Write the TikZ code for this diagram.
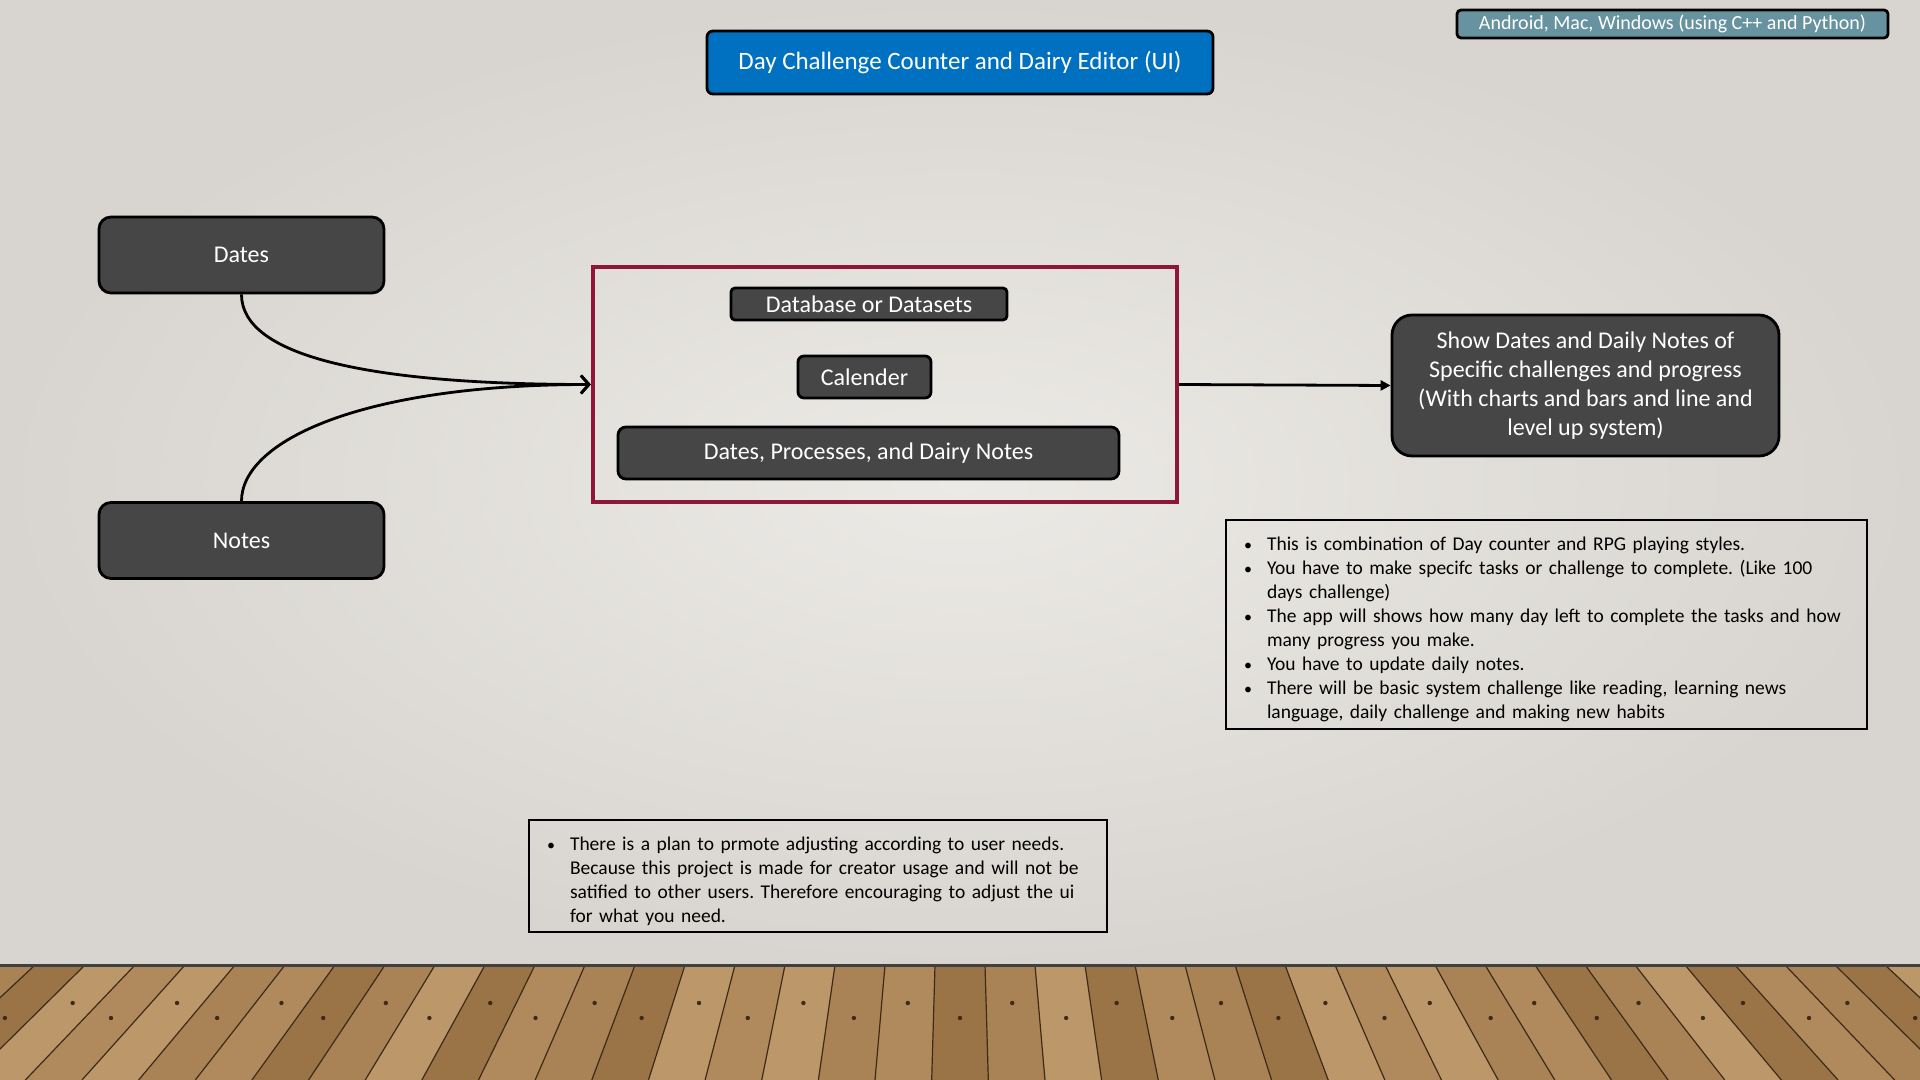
\documentclass[tikz,border=0pt]{standalone}
\usepackage{fontspec}
\setmainfont{Carlito}
\usepackage{tikz}
\usetikzlibrary{arrows.meta}
\usetikzlibrary{calc}

\definecolor{wallin}{HTML}{ECEAE6}
\definecolor{wallout}{HTML}{D8D5D0}
\definecolor{boxgray}{HTML}{464646}
\definecolor{titleblue}{HTML}{0070C0}
\definecolor{platteal}{HTML}{67929F}
\definecolor{storered}{HTML}{8E1737}
\definecolor{plank0}{HTML}{A98256}
\definecolor{plank1}{HTML}{BC976A}
\definecolor{plank2}{HTML}{9A7347}
\definecolor{plank3}{HTML}{B08A5C}
\definecolor{seam}{HTML}{3E2A18}
\newcommand{\BUL}[1]{\par\noindent\hangindent=11.5pt\hangafter=1\makebox[11.5pt][l]{\footnotesize\textbullet}#1\par}

\begin{document}
\begin{tikzpicture}[x=0.5pt,y=-0.5pt,
    darkbox/.style={draw=black,line width=1.4pt,fill=boxgray,text=white,rounded corners=6pt,
      align=center,inner sep=0pt,font=\fontsize{12}{14.5}\selectfont},
    notebox/.style={draw=black,line width=1pt,align=left,inner xsep=9pt,inner ysep=0pt,
      text=black,font=\frenchspacing\fontsize{9.75}{12}\selectfont},
    flow/.style={line width=1.4pt,-{Straight Barb[length=4pt,width=9pt]}}]
    \useasboundingbox (0,0) rectangle (1920,1080);

    % wall and floor
    \shade[inner color=wallin,outer color=wallout] (0,0) rectangle (1920,966);
    \coordinate (V) at (960,100);
    \begin{scope}
      \clip (0,965) rectangle (1920,1080);
      \foreach \k in {-22,...,21} {
        \pgfmathtruncatemacro\m{{0,2,1,3,1,0,3,2,0,1,2,3}[mod(\k+44,12)]}
        \pgfmathsetmacro\xa{985+50*\k}
        \pgfmathsetmacro\xb{1035+50*\k}
        \pgfmathsetmacro\tn{(1003+15*mod(\k+44,2)-100)/865}
        \fill[plank\m] (\xa,965) -- (\xb,965) -- ($(V)!1.1329!(\xb,965)$) -- ($(V)!1.1329!(\xa,965)$) --cycle;
        \draw[seam,line width=0.6pt] (\xa,965) -- ($(V)!1.1329!(\xa,965)$);
        \fill[seam] ($(V)!\tn!(\xa+25,965)$) circle (1.1pt);
      }
    \end{scope}
    \draw[line width=1.5pt,black!75] (0,965) -- (1920,965);

    % boxes
    \node[darkbox,draw=black,fill=titleblue,rounded corners=3pt,minimum width=253pt,minimum height=31.5pt,
      font=\fontsize{12.5}{15}\selectfont] (title) at (960,62.5) {Day Challenge Counter and Dairy Editor (UI)};
    \node[darkbox,fill=platteal,rounded corners=2pt,minimum width=215.5pt,minimum height=14pt,
      font=\fontsize{10}{12}\selectfont] (platform) at (1672.5,24) {Android, Mac, Windows (using C++ and Python)};

    \node[darkbox,minimum width=142.5pt,minimum height=38pt] (dates) at (241.5,255) {Dates};
    \node[darkbox,minimum width=142.5pt,minimum height=38pt] (notes) at (241.5,540.5) {Notes};

    \node[draw=storered,line width=2.2pt,minimum width=292pt,minimum height=117.5pt] (store) at (885,384.5) {};
    \node[darkbox,rounded corners=2pt,minimum width=138pt,minimum height=16pt] (dbnode) at (869,304) {Database or Datasets};
    \node[darkbox,rounded corners=3pt,minimum width=66.5pt,minimum height=21pt] (calender) at (864.5,377) {Calender};
    \node[darkbox,rounded corners=4pt,minimum width=250.5pt,minimum height=26pt] (process) at (868.5,453) {Dates, Processes, and Dairy Notes};

    \node[darkbox,rounded corners=10pt,minimum width=193.5pt,minimum height=70.5pt] (show) at (1585.5,385.5)
      {Show Dates and Daily Notes of\\Specific challenges and progress\\(With charts and bars and line and\\level up system)};

    \draw[flow] (dates.south) .. controls +(0,60) and +(-230,0) .. (store.west);
    \draw[flow] (notes.north) .. controls +(0,-60) and +(-230,0) .. (store.west);
    \draw[line width=1.4pt,-{Triangle[length=5pt,width=5pt]}] (store.east) -- (show.west);

    % notes
    \node[notebox,text width=302.5pt,minimum height=104.5pt] (about) at (1546.5,624.5) {%
      \BUL{This is combination of Day counter and RPG playing styles.}
      \BUL{You have to make specifc tasks or challenge to complete. (Like 100\newline days challenge)}
      \BUL{The app will shows how many day left to complete the tasks and how\newline many progress you make.}
      \BUL{You have to update daily notes.}
      \BUL{There will be basic system challenge like reading, learning news\newline language, daily challenge and making new habits}};
    \node[notebox,text width=271pt,minimum height=56pt] (plan) at (818,876) {%
      \BUL{There is a plan to prmote adjusting according to user needs.\newline Because this project is made for creator usage and will not be\newline satified to other users. Therefore encouraging to adjust the ui\newline for what you need.}};
  \end{tikzpicture}
\end{document}
